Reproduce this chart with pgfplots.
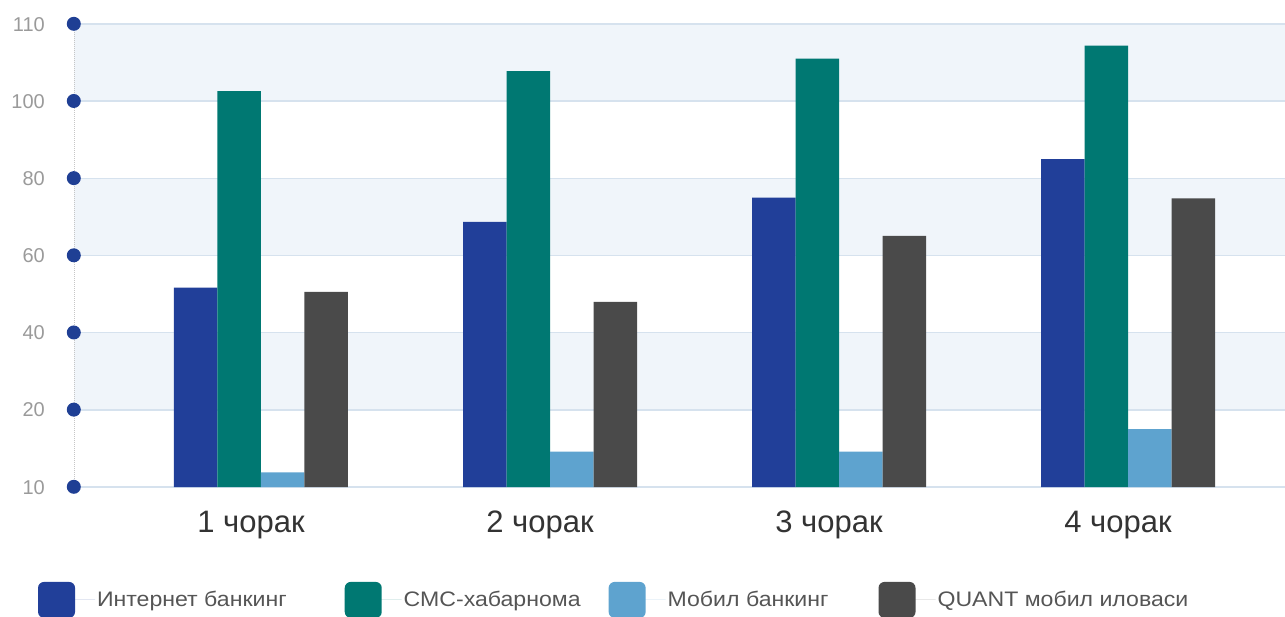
\documentclass[border=0pt]{standalone}
\usepackage{fontspec}
\setmainfont{Liberation Sans}
\newfontfamily\legfont{Liberation Sans}[FakeStretch=1.1]
\usepackage{pgfplots}
\pgfplotsset{compat=1.18}
\definecolor{cInt}{HTML}{213F99}
\definecolor{cSms}{HTML}{007872}
\definecolor{cMob}{HTML}{5EA3CF}
\definecolor{cQnt}{HTML}{4A4A4A}
\definecolor{dotblue}{HTML}{1F3F94}
\definecolor{gridc}{HTML}{D6E2EE}
\definecolor{bandc}{HTML}{F0F5FA}
\definecolor{tickgray}{HTML}{9A9A9A}
\definecolor{catc}{HTML}{333333}
\definecolor{legc}{HTML}{555555}
\newcommand\tl[1]{\textcolor{tickgray}{#1}\hspace{22pt}\tikz[baseline={(0,-0.36em)}]\fill[dotblue](0,0) circle (7pt);}
\pgfplotsset{mylegend/.style={legend image code/.code={\fill[rounded corners=6pt] (0pt,-18pt) rectangle (37pt,18pt); \path (0pt,0pt) -- (57pt,0pt);}}}
\begin{document}
\begin{tikzpicture}
\begin{axis}[
  set layers,
  scale only axis, width=1211pt, height=463pt,
  xmin=0.353, xmax=4.543,
  ymin=10, ymax=110,
  y coord trafo/.code={\pgfmathparse{#1<20 ? (#1-10)/10 : (#1<100 ? 1+(#1-20)/20 : 5+(#1-100)/10)}},
  ytick={10,20,40,60,80,100,110},
  yticklabels={\tl{10},\tl{20},\tl{40},\tl{60},\tl{80},\tl{100},\tl{110}},
  yticklabel style={anchor=east, inner sep=0pt, xshift=7pt, font=\fontsize{20}{24}\selectfont},
  xtick={1,2,3,4},
  xticklabels={1 чорак,2 чорак,3 чорак,4 чорак},
  xticklabel style={anchor=north, inner sep=0pt, yshift=-24pt, xshift=-10pt, text=catc, font=\fontsize{31}{36}\selectfont},
  ybar=0pt, bar width=43.5pt,
  axis lines=left, axis line style={-},
  x axis line style={draw=none},
  y axis line style={draw=gray!45, densely dotted, line width=1pt},
  major tick length=0pt,
  ymajorgrids, grid style={draw=gridc, line width=1.5pt},
  legend columns=4,
  legend style={at={(-0.0297,-0.205)}, anchor=north west, draw=none, fill=none,
    inner sep=0pt, outer sep=0pt, text=legc, font=\legfont\fontsize{21}{25}\selectfont,
    /tikz/column 2/.style={column sep=56pt},
    /tikz/column 4/.style={column sep=26pt},
    /tikz/column 6/.style={column sep=48pt}},
  legend cell align=left,
]
\begin{pgfonlayer}{axis background}
\fill[bandc] (rel axis cs:0,0.8333) rectangle (rel axis cs:1,1);
\fill[bandc] (rel axis cs:0,0.5) rectangle (rel axis cs:1,0.6667);
\fill[bandc] (rel axis cs:0,0.1667) rectangle (rel axis cs:1,0.3333);
\end{pgfonlayer}
\addplot[draw=none, fill=cInt, mylegend] coordinates {(1,51.7) (2,68.7) (3,75.0) (4,85.0)};
\addplot[draw=none, fill=cSms, mylegend] coordinates {(1,101.3) (2,103.9) (3,105.5) (4,107.2)};
\addplot[draw=none, fill=cMob, mylegend] coordinates {(1,11.9) (2,14.6) (3,14.6) (4,17.5)};
\addplot[draw=none, fill=cQnt, mylegend] coordinates {(1,50.6) (2,48.0) (3,65.1) (4,74.8)};
\legend{Интернет банкинг, СМС-хабарнома, Мобил банкинг, QUANT мобил иловаси}
\end{axis}
\pgfresetboundingbox
\path[use as bounding box] (-74pt,-129pt) rectangle (1211pt,487pt);
\end{tikzpicture}
\end{document}
